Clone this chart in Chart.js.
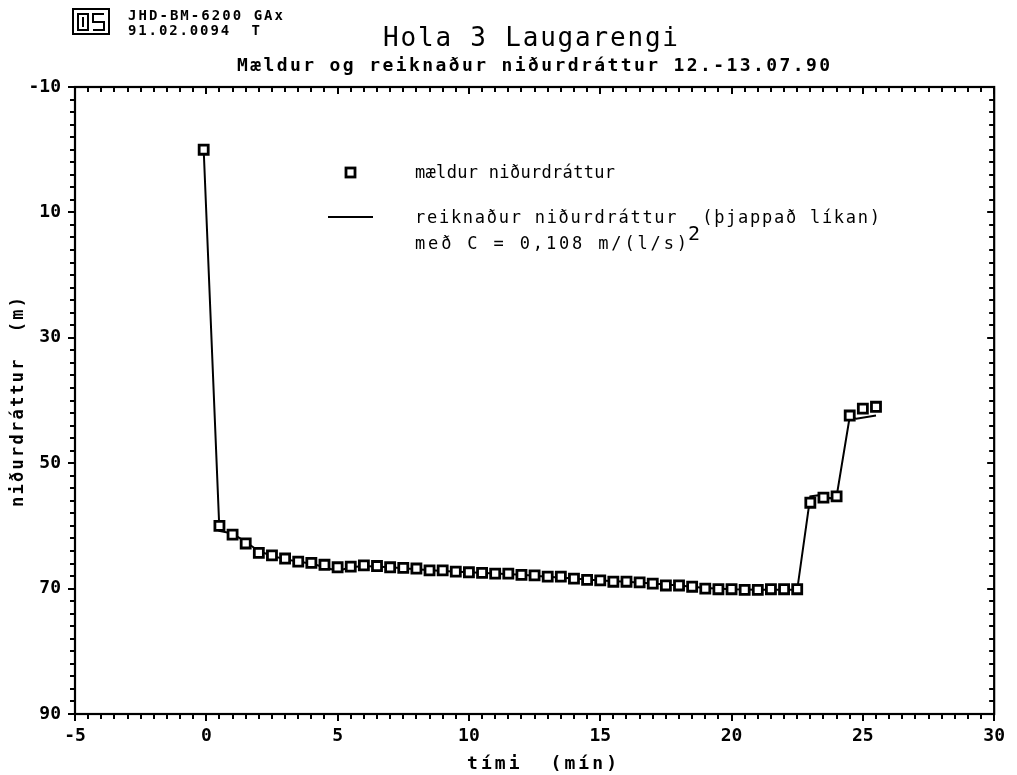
<!DOCTYPE html>
<html>
<head>
<meta charset="utf-8">
<script src="https://cdn.jsdelivr.net/npm/chart.js@4.4.1/dist/chart.umd.min.js"></script>
<style>
  html, body { margin: 0; background: #fff; }
  #wrap { width: 1017px; height: 775px; }
</style>
</head>
<body>
<div id="wrap"><canvas id="chart" width="1017" height="775"></canvas></div>
<script>
// Tick labels
const xTicks = [-5, 0, 5, 10, 15, 20, 25, 30];
const yTicks = [-10, 10, 30, 50, 70, 90];

// Measured drawdown (squares)
const measTime = [-0.1, 0.5, 1, 1.5, 2, 2.5, 3, 3.5, 4, 4.5, 5, 5.5, 6, 6.5, 7, 7.5, 8, 8.5, 9, 9.5,
  10, 10.5, 11, 11.5, 12, 12.5, 13, 13.5, 14, 14.5, 15, 15.5, 16, 16.5, 17, 17.5, 18, 18.5, 19, 19.5,
  20, 20.5, 21, 21.5, 22, 22.5, 23, 23.5, 24, 24.5, 25, 25.5];
const measDrawdown = [0, 60.0, 61.4, 62.8, 64.3, 64.7, 65.2, 65.7, 65.9, 66.2, 66.6, 66.5, 66.3, 66.4, 66.6, 66.7, 66.8, 67.1, 67.1, 67.3,
  67.4, 67.5, 67.6, 67.6, 67.8, 67.9, 68.1, 68.1, 68.4, 68.6, 68.7, 68.9, 68.9, 69.0, 69.2, 69.5, 69.5, 69.7, 70.0, 70.1,
  70.1, 70.2, 70.2, 70.1, 70.1, 70.1, 56.3, 55.5, 55.3, 42.4, 41.3, 41.0];

// Calculated drawdown (line)
const modelTime = [-0.1, 0.5, 1, 1.5, 2, 2.5, 3, 3.5, 4, 4.5, 5, 5.5, 6, 7, 8, 9, 10, 11, 12, 13, 14, 15, 16, 17, 18, 19,
  20, 21, 22, 22.5, 23, 23.5, 23.75, 24, 24.5, 24.75, 25.5];
const modelDrawdown = [0, 60.8, 61.2, 62.6, 64.0, 64.8, 65.3, 65.7, 66.0, 66.6, 67.2, 66.6, 66.4, 66.6, 66.9, 67.2, 67.4, 67.6, 67.8, 68.1, 68.4, 68.7, 68.9, 69.2, 69.5, 69.9,
  70.1, 70.2, 70.2, 70.2, 55.3, 55.0, 55.6, 55.3, 42.6, 42.9, 42.4];

const FONT = '"DejaVu Sans Mono", "Liberation Mono", monospace';

// draw text stretched to the width seen on the plot
function fitText(ctx, text, x, y, width, font) {
  ctx.font = font;
  ctx.letterSpacing = '0px';
  const w = ctx.measureText(text).width;
  const n = [...text].length;
  ctx.letterSpacing = ((width - w) / Math.max(n - 1, 1)) + 'px';
  ctx.fillText(text, x, y);
  ctx.letterSpacing = '0px';
}

const frame = {
  id: 'frame',
  afterDraw(chart) {
    const { ctx, chartArea: a, scales: { x, y } } = chart;
    ctx.save();
    ctx.strokeStyle = '#000';
    ctx.fillStyle = '#000';

    // minor + major tick marks on all four sides
    ctx.lineWidth = 2;
    ctx.beginPath();
    for (let v = -5; v <= 30.001; v += 0.5) {
      const px = Math.round(x.getPixelForValue(v));
      const major = Math.abs(v / 5 - Math.round(v / 5)) < 1e-6;
      const len = major ? 7 : 5;
      ctx.moveTo(px, a.bottom); ctx.lineTo(px, a.bottom + len);
      ctx.moveTo(px, a.top); ctx.lineTo(px, a.top + len);
    }
    for (let v = -10; v <= 90.001; v += 2) {
      const py = Math.round(y.getPixelForValue(v));
      const major = Math.abs((v + 10) / 20 - Math.round((v + 10) / 20)) < 1e-6;
      const len = major ? 7 : 5;
      ctx.moveTo(a.left, py); ctx.lineTo(a.left - len, py);
      ctx.moveTo(a.right, py); ctx.lineTo(a.right - len, py);
    }
    ctx.stroke();

    ctx.lineWidth = 2.2;
    ctx.strokeRect(a.left, a.top, a.right - a.left, a.bottom - a.top);

    // header logo
    ctx.lineWidth = 2;
    ctx.strokeRect(73, 9, 36, 25);
    ctx.beginPath();
    ctx.rect(78, 14, 10, 16);
    ctx.moveTo(83, 17); ctx.lineTo(83, 27);
    ctx.moveTo(104, 14); ctx.lineTo(93, 14); ctx.lineTo(93, 22);
    ctx.lineTo(104, 22); ctx.lineTo(104, 30); ctx.lineTo(93, 30);
    ctx.stroke();

    ctx.textBaseline = 'alphabetic';
    ctx.textAlign = 'left';
    fitText(ctx, 'JHD-BM-6200 GAx', 128, 20, 155, 'bold 14px ' + FONT);
    fitText(ctx, '91.02.0094  T', 128, 35, 132, 'bold 14px ' + FONT);

    // titles
    fitText(ctx, 'Hola 3 Laugarengi', 383, 46, 295, '26px ' + FONT);
    fitText(ctx, 'Mældur og reiknaður niðurdráttur 12.-13.07.90', 237, 71, 593, 'bold 18px ' + FONT);

    // axis titles
    fitText(ctx, 'tími  (mín)', 467, 769, 150, 'bold 18px ' + FONT);
    ctx.save();
    ctx.translate(23, 507);
    ctx.rotate(-Math.PI / 2);
    fitText(ctx, 'niðurdráttur  (m)', 0, 0, 210, 'bold 17px ' + FONT);
    ctx.restore();

    // legend
    ctx.lineWidth = 2.8;
    ctx.fillStyle = '#fff';
    ctx.fillRect(346, 168, 9, 9);
    ctx.strokeRect(346, 168, 9, 9);
    ctx.fillStyle = '#000';
    ctx.lineWidth = 2;
    ctx.beginPath();
    ctx.moveTo(328, 217); ctx.lineTo(373, 217);
    ctx.stroke();
    fitText(ctx, 'mældur niðurdráttur', 415, 178, 200, '17px ' + FONT);
    fitText(ctx, 'reiknaður niðurdráttur  (þjappað líkan)', 415, 223, 465, '17px ' + FONT);
    fitText(ctx, 'með C = 0,108 m/(l/s)', 415, 249, 272, '17px ' + FONT);
    ctx.font = '20px ' + FONT;
    ctx.fillText('2', 688, 240);
    ctx.restore();
  }
};

new Chart(document.getElementById('chart'), {
  type: 'scatter',
  data: {
    datasets: [
      {
        label: 'mældur niðurdráttur',
        data: measTime.map((t, i) => ({ x: t, y: measDrawdown[i] })),
        showLine: false,
        pointStyle: 'rect',
        pointRadius: 6.4,
        pointBorderWidth: 2.8,
        pointBackgroundColor: '#fff',
        pointBorderColor: '#000',
      },
      {
        label: 'reiknaður niðurdráttur',
        data: modelTime.map((t, i) => ({ x: t, y: modelDrawdown[i] })),
        showLine: true,
        borderColor: '#000',
        borderWidth: 2,
        pointRadius: 0,
        tension: 0,
        fill: false,
      },
    ],
  },
  options: {
    responsive: false,
    animation: false,
    devicePixelRatio: 1,
    layout: { padding: { left: 0, right: 14, top: 87, bottom: 0 } },
    plugins: { legend: { display: false }, tooltip: { enabled: false }, title: { display: false } },
    scales: {
      x: {
        type: 'linear',
        min: -5,
        max: 30,
        afterBuildTicks: (s) => { s.ticks = xTicks.map((v) => ({ value: v })); },
        afterFit: (s) => { s.height = 61; },
        grid: { display: false, drawTicks: false },
        border: { display: false },
        ticks: { padding: 12, color: '#000', autoSkip: false, maxRotation: 0,
          font: { family: FONT, size: 18, weight: 'bold' } },
      },
      y: {
        type: 'linear',
        min: -10,
        max: 90,
        reverse: true,
        afterBuildTicks: (s) => { s.ticks = yTicks.map((v) => ({ value: v })); },
        afterFit: (s) => { s.width = 75; },
        grid: { display: false, drawTicks: false },
        border: { display: false },
        ticks: { padding: 14, color: '#000', autoSkip: false,
          font: { family: FONT, size: 18, weight: 'bold' } },
      },
    },
  },
  plugins: [frame],
});
</script>
</body>
</html>
